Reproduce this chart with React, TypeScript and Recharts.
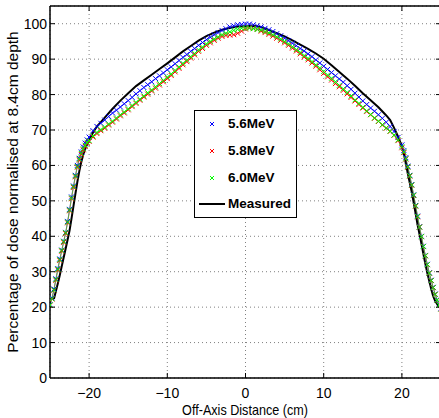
import React from 'react';
import { ComposedChart, Scatter, Line, XAxis, YAxis, CartesianGrid, Legend } from 'recharts';

// Off-axis positions (cm) of the simulated profiles
const simX = [
  -25, -24.75, -24.5, -24.25, -24, -23.75, -23.5, -23.25, -23, -22.75,
  -22.5, -22.25, -22, -21.75, -21.5, -21.25, -21, -20.75, -20.5, -20.25,
  -20, -19.5, -19, -18.5, -18, -17.5, -17, -16.5, -16, -15.5,
  -15, -14.5, -14, -13.5, -13, -12.5, -12, -11.5, -11, -10.5,
  -10, -9.5, -9, -8.5, -8, -7.5, -7, -6.5, -6, -5.5,
  -5, -4.5, -4, -3.5, -3, -2.5, -2, -1.5, -1, -0.5,
  0, 0.5, 1, 1.5, 2, 2.5, 3, 3.5, 4, 4.5,
  5, 5.5, 6, 6.5, 7, 7.5, 8, 8.5, 9, 9.5,
  10, 10.5, 11, 11.5, 12, 12.5, 13, 13.5, 14, 14.5,
  15, 15.5, 16, 16.5, 17, 17.5, 18, 18.5, 19, 19.5,
  20, 20.25, 20.5, 20.75, 21, 21.25, 21.5, 21.75, 22, 22.25,
  22.5, 22.75, 23, 23.25, 23.5, 23.75, 24, 24.25, 24.5, 24.75, 25,
];

const dose56 = [
  20.7, 22.6, 25.1, 28.0, 30.9, 33.6, 36.1, 38.6, 41.1, 44.2,
  47.6, 51.1, 54.2, 57.2, 60.0, 62.0, 63.8, 65.2, 66.3, 67.2,
  68.0, 69.8, 71.0, 71.9, 72.8, 73.8, 74.8, 75.6, 76.5, 77.4,
  78.3, 79.2, 80.2, 81.1, 82.0, 82.8, 83.6, 84.5, 85.3, 86.1,
  87.0, 87.8, 88.7, 89.6, 90.5, 91.3, 92.2, 93.0, 93.9, 94.7,
  95.5, 96.2, 96.9, 97.5, 98.1, 98.6, 99.1, 99.4, 99.7, 99.8,
  99.9, 99.9, 99.7, 99.4, 99.1, 98.7, 98.3, 97.8, 97.2, 96.6,
  95.9, 95.2, 94.5, 93.8, 93.0, 92.3, 91.5, 90.7, 89.8, 88.9,
  88.0, 87.1, 86.2, 85.3, 84.4, 83.5, 82.5, 81.5, 80.4, 79.3,
  78.2, 77.2, 76.2, 75.3, 74.3, 73.3, 72.2, 71.0, 69.6, 67.9,
  65.8, 64.2, 62.2, 59.8, 57.2, 54.6, 51.7, 48.7, 45.7, 42.7,
  40.0, 37.2, 34.6, 32.1, 29.7, 27.6, 25.6, 23.7, 22.1, 20.7, 19.6,
];

const dose58 = [
  20.5, 22.3, 24.8, 27.6, 30.5, 33.2, 35.8, 38.3, 40.8, 43.8,
  47.2, 50.6, 53.8, 56.8, 59.5, 61.5, 63.1, 64.4, 65.4, 66.2,
  66.8, 68.0, 69.0, 69.8, 70.5, 71.4, 72.2, 73.1, 74.0, 74.8,
  75.7, 76.6, 77.5, 78.4, 79.3, 80.1, 81.0, 81.8, 82.7, 83.6,
  84.5, 85.4, 86.4, 87.4, 88.4, 89.3, 90.3, 91.2, 92.2, 93.0,
  93.9, 94.6, 95.3, 95.9, 96.4, 96.7, 96.8, 96.9, 97.3, 97.9,
  98.5, 98.8, 98.7, 98.4, 97.9, 97.5, 97.0, 96.5, 95.9, 95.3,
  94.6, 93.9, 93.1, 92.3, 91.5, 90.6, 89.8, 88.9, 88.0, 87.0,
  86.0, 85.0, 84.1, 83.1, 82.2, 81.2, 80.2, 79.2, 78.2, 77.2,
  76.2, 75.2, 74.3, 73.3, 72.4, 71.4, 70.5, 69.6, 68.5, 67.0,
  65.0, 63.6, 61.8, 59.5, 57.0, 54.4, 51.5, 48.5, 45.5, 42.6,
  39.9, 37.1, 34.5, 32.0, 29.6, 27.5, 25.5, 23.6, 22.0, 20.6, 19.5,
];

const dose60 = [
  20.6, 22.4, 24.9, 27.8, 30.7, 33.4, 36.0, 38.5, 41.0, 44.0,
  47.4, 50.8, 54.0, 57.0, 59.7, 61.8, 63.4, 64.7, 65.7, 66.5,
  67.0, 68.3, 69.3, 70.1, 70.8, 71.7, 72.5, 73.4, 74.3, 75.1,
  76.0, 76.9, 77.8, 78.7, 79.6, 80.5, 81.3, 82.2, 83.1, 84.0,
  84.9, 85.8, 86.8, 87.8, 88.8, 89.7, 90.7, 91.6, 92.6, 93.4,
  94.3, 95.0, 95.7, 96.3, 96.9, 97.3, 97.7, 98.1, 98.4, 98.7,
  98.8, 98.8, 98.6, 98.4, 98.2, 97.8, 97.4, 96.9, 96.3, 95.7,
  95.0, 94.3, 93.5, 92.7, 91.9, 91.0, 90.2, 89.3, 88.4, 87.5,
  86.5, 85.5, 84.6, 83.6, 82.6, 81.6, 80.6, 79.6, 78.5, 77.5,
  76.4, 75.4, 74.4, 73.4, 72.5, 71.5, 70.6, 69.7, 68.6, 67.2,
  65.3, 63.8, 61.9, 59.6, 57.1, 54.5, 51.6, 48.6, 45.6, 42.6,
  39.9, 37.1, 34.5, 32.0, 29.6, 27.5, 25.5, 23.6, 22.0, 20.6, 19.5,
];

// Measured profile
const measuredX = [
  -24.5, -24.25, -24, -23.75, -23.5, -23.25, -23, -22.75, -22.5, -22.25,
  -22, -21.75, -21.5, -21.25, -21, -20.75, -20.5, -20.25, -20,
  -19.5, -19, -18.5, -18,
  -17, -16, -15, -14, -13, -12, -11, -10, -9, -8, -7, -6, -5, -4, -3, -2, -1,
  0, 1, 2, 3, 4, 5, 6, 7, 8, 9, 10, 11, 12, 13, 14, 15, 16, 17, 18,
  18.5, 19, 19.5,
  20, 20.25, 20.5, 20.75, 21, 21.25, 21.5, 21.75, 22, 22.25,
  22.5, 22.75, 23, 23.25, 23.5, 23.75, 24, 24.25, 24.5, 24.75,
];
const measuredY = [
  22.3, 24.5, 26.7, 29.0, 31.5, 34.0, 36.5, 39.0, 41.6, 45.0,
  48.5, 52.0, 55.4, 58.4, 61.0, 63.0, 64.7, 66.0, 67.0,
  69.3, 71.0, 72.2, 73.5,
  76.0, 78.3, 80.4, 82.4, 84.0, 85.6, 87.2, 88.8, 90.5, 92.2, 93.7, 95.2, 96.5, 97.5, 98.3, 98.8, 99.2,
  99.3, 99.4, 99.0, 98.2, 97.3, 96.4, 95.3, 94.1, 92.9, 91.6, 90.1, 88.3, 86.4, 84.5, 82.5, 80.4, 78.4, 76.4, 74.1,
  72.8, 70.6, 68.2,
  65.4, 63.3, 60.6, 57.8, 55.2, 52.6, 49.6, 46.5, 43.3, 40.6,
  37.9, 35.0, 32.2, 29.6, 27.4, 25.1, 23.1, 21.8, 20.9, 20.0,
];

const xTicks = [-20, -10, 0, 10, 20];
const yTicks = [0, 10, 20, 30, 40, 50, 60, 70, 80, 90, 100];

const seriesLabels = ['5.6MeV', '5.8MeV', '6.0MeV', 'Measured'];
const seriesColors = ['#0000ff', '#ff0000', '#00ff00', '#000000'];

const zip = (xs: number[], ys: number[]) => xs.map((x, i) => ({ x, y: ys[i] }));
const data56 = zip(simX, dose56);
const data58 = zip(simX, dose58);
const data60 = zip(simX, dose60);
const dataMeasured = zip(measuredX, measuredY);

const FONT = '"Liberation Sans", Arial, Helvetica, sans-serif';

const XMark = ({ cx, cy, color, s = 2.5 }: any) => {
  if (cx == null || cy == null) return null;
  return (
    <g>
      <line x1={cx - s} y1={cy - s} x2={cx + s} y2={cy + s} stroke={color} strokeWidth={1} />
      <line x1={cx - s} y1={cy + s} x2={cx + s} y2={cy - s} stroke={color} strokeWidth={1} />
    </g>
  );
};

const fmt = (v: number) => (v < 0 ? '\u2212' + Math.abs(v) : String(v));

const BottomTick = (props: any) => {
  const { x, y, payload } = props;
  return (
    <g>
      <line x1={x} x2={x} y1={y} y2={y - 5} stroke="#000" strokeWidth={1} />
      <text x={x} y={y + 20} textAnchor="middle" fontSize={14} fontFamily={FONT} fill="#000">
        {fmt(payload.value)}
      </text>
    </g>
  );
};

const TopTick = (props: any) => {
  const { x, y } = props;
  return <line x1={x} x2={x} y1={y} y2={y + 5} stroke="#000" strokeWidth={1} />;
};

const LeftTick = (props: any) => {
  const { x, y, payload } = props;
  return (
    <g>
      {payload.value !== 0 && <line x1={x} x2={x + 5} y1={y} y2={y} stroke="#000" strokeWidth={1} />}
      <text x={x - 3} y={y + 5} textAnchor="end" fontSize={14} fontFamily={FONT} fill="#000">
        {payload.value}
      </text>
    </g>
  );
};

const RightTick = (props: any) => {
  const { x, y, payload } = props;
  if (payload.value === 0) return null;
  return <line x1={x} x2={x - 5} y1={y} y2={y} stroke="#000" strokeWidth={1} />;
};

const LegendBox = () => (
  <div
    style={{
      width: 103,
      height: 108,
      boxSizing: 'border-box',
      border: '1.5px solid #000',
      background: '#fff',
      position: 'relative',
      fontFamily: FONT,
      fontWeight: 'bold',
      fontSize: 13.5,
      color: '#000',
    }}
  >
    {seriesLabels.map((label, i) => (
      <div
        key={label}
        style={{ position: 'absolute', left: 0, top: 5 + i * 26.8, height: 16, display: 'flex', alignItems: 'center' }}
      >
        <svg width={33} height={16} style={{ display: 'block' }}>
          {i < 3 ? (
            <XMark cx={17} cy={8} color={seriesColors[i]} s={2} />
          ) : (
            <line x1={4} x2={30} y1={8} y2={8} stroke="#000" strokeWidth={2} />
          )}
        </svg>
        <span style={{ lineHeight: '16px', whiteSpace: 'nowrap' }}>{label}</span>
      </div>
    ))}
  </div>
);

export default function App() {
  return (
    <div
      style={{
        position: 'absolute',
        left: 0,
        top: 0,
        width: 439,
        height: 418,
        overflow: 'hidden',
        background: '#fff',
      }}
    >
      <ComposedChart width={442} height={418} margin={{ top: 0, right: 0, bottom: 0, left: 0 }}>
        <CartesianGrid stroke="#808080" strokeDasharray="1 3" strokeWidth={1} />
        <XAxis
          type="number"
          dataKey="x"
          domain={[-25, 25]}
          ticks={xTicks}
          interval={0}
          height={40}
          tickSize={0}
          tickMargin={0}
          tickLine={false}
          tick={<BottomTick />}
          axisLine={{ stroke: '#000', strokeWidth: 1.5 }}
          allowDataOverflow
        />
        <XAxis
          xAxisId="top"
          orientation="top"
          type="number"
          dataKey="x"
          domain={[-25, 25]}
          ticks={xTicks}
          interval={0}
          height={6}
          tickSize={0}
          tickMargin={0}
          tickLine={false}
          tick={<TopTick />}
          axisLine={{ stroke: '#000', strokeWidth: 1.5 }}
          allowDataOverflow
        />
        <YAxis
          type="number"
          domain={[0, 105]}
          ticks={yTicks}
          interval={0}
          width={50}
          tickSize={0}
          tickMargin={0}
          tickLine={false}
          tick={<LeftTick />}
          axisLine={{ stroke: '#000', strokeWidth: 1.5 }}
          allowDataOverflow
        />
        <YAxis
          yAxisId="right"
          orientation="right"
          type="number"
          domain={[0, 105]}
          ticks={yTicks}
          interval={0}
          width={1}
          tickSize={0}
          tickMargin={0}
          tickLine={false}
          tick={<RightTick />}
          axisLine={{ stroke: '#000', strokeWidth: 1.5 }}
          allowDataOverflow
        />
        <Legend
          layout="vertical"
          align="center"
          verticalAlign="middle"
          content={() => <LegendBox />}
          wrapperStyle={{ left: 194, top: 110, width: 103, height: 108 }}
        />
        <Line data={data56} dataKey="y" stroke={seriesColors[0]} strokeWidth={1} strokeOpacity={0.5} dot={false} isAnimationActive={false} legendType="none" />
        <Scatter data={data56} dataKey="y" isAnimationActive={false} shape={(p: any) => <XMark cx={p.cx} cy={p.cy} color={seriesColors[0]} />} />
        <Line data={data58} dataKey="y" stroke={seriesColors[1]} strokeWidth={1} strokeOpacity={0.5} dot={false} isAnimationActive={false} legendType="none" />
        <Scatter data={data58} dataKey="y" isAnimationActive={false} shape={(p: any) => <XMark cx={p.cx} cy={p.cy} color={seriesColors[1]} />} />
        <Line data={data60} dataKey="y" stroke={seriesColors[2]} strokeWidth={1} strokeOpacity={0.5} dot={false} isAnimationActive={false} legendType="none" />
        <Scatter data={data60} dataKey="y" isAnimationActive={false} shape={(p: any) => <XMark cx={p.cx} cy={p.cy} color={seriesColors[2]} />} />
        <Line data={dataMeasured} dataKey="y" stroke="#000" strokeWidth={2} dot={false} isAnimationActive={false} type="linear" />
      </ComposedChart>
      <div
        style={{
          position: 'absolute',
          left: 13,
          top: 192,
          transform: 'translate(-50%, -50%) rotate(-90deg)',
          whiteSpace: 'nowrap',
          fontFamily: FONT,
          fontSize: 15.5,
          color: '#000',
        }}
      >
        Percentage of dose normalised at 8.4cm depth
      </div>
      <div
        style={{
          position: 'absolute',
          left: 245,
          top: 409,
          transform: 'translate(-50%, -50%) scaleX(0.84)',
          whiteSpace: 'nowrap',
          fontFamily: FONT,
          fontSize: 15,
          color: '#000',
        }}
      >
        Off-Axis Distance (cm)
      </div>
    </div>
  );
}
